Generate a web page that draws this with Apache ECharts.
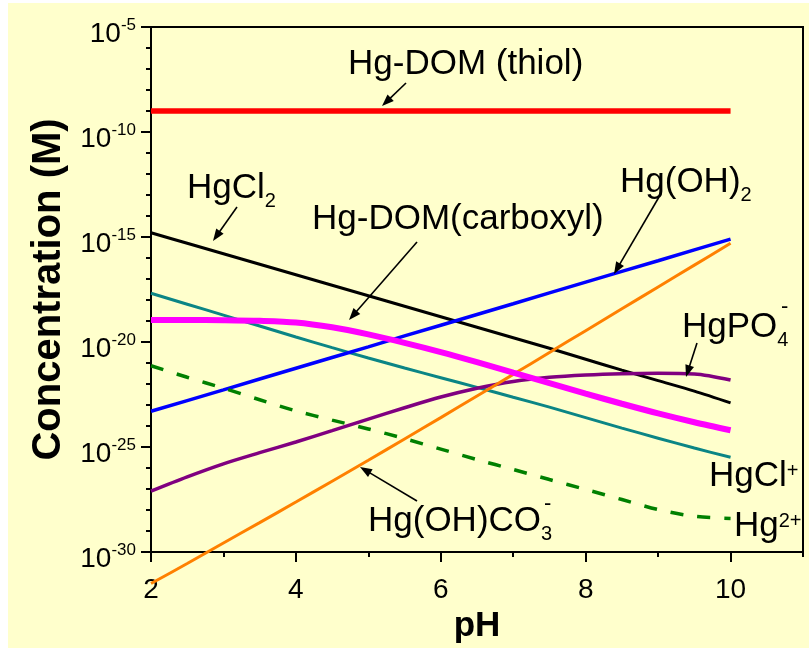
<!DOCTYPE html>
<html><head><meta charset="utf-8">
<script src="https://cdn.jsdelivr.net/npm/echarts@6/dist/echarts.min.js"></script>
<style>html,body{margin:0;padding:0;background:#fff;} #c{width:809px;height:650px;}</style>
</head><body><div id="c"></div>
<script>
// pH values (x)
const pH = [2, 2.5, 3, 3.5, 4, 4.5, 5, 5.5, 6, 6.5, 7, 7.5, 8, 8.5, 9, 9.5, 10];
// log10 of concentration (M)
const HgDOM_thiol    = [-9, -9, -9, -9, -9, -9, -9, -9, -9, -9, -9, -9, -9, -9, -9, -9, -9];
const HgCl2          = [-14.8, -15.3, -15.8, -16.3, -16.8, -17.3, -17.8, -18.3, -18.8, -19.3, -19.8, -20.3, -20.82, -21.34, -21.84, -22.34, -22.9];
const HgClPlus       = [-17.68, -18.2, -18.72, -19.24, -19.76, -20.27, -20.76, -21.24, -21.7, -22.16, -22.63, -23.1, -23.6, -24.1, -24.58, -25.05, -25.49];
const HgDOM_carboxyl = [-18.95, -18.95, -18.96, -18.99, -19.07, -19.3, -19.64, -20.04, -20.48, -20.96, -21.46, -21.96, -22.46, -22.94, -23.4, -23.82, -24.2];
const HgOH2          = [-23.3, -22.79, -22.28, -21.76, -21.25, -20.74, -20.23, -19.71, -19.2, -18.69, -18.18, -17.66, -17.15, -16.64, -16.13, -15.61, -15.1];
const HgOHCO3        = [-31.5, -30.55, -29.57, -28.6, -27.62, -26.63, -25.63, -24.62, -23.6, -22.57, -21.54, -20.5, -19.46, -18.42, -17.38, -16.34, -15.3];
const HgPO4          = [-27.1, -26.42, -25.8, -25.27, -24.76, -24.22, -23.67, -23.13, -22.62, -22.2, -21.88, -21.68, -21.57, -21.51, -21.49, -21.52, -21.81];
const Hg2Plus        = [-21.13, -21.68, -22.2, -22.75, -23.28, -23.72, -24.14, -24.6, -25.1, -25.6, -26.07, -26.55, -27.02, -27.5, -27.98, -28.3, -28.4];
// axis ticks
const xMajorTicks = [2, 4, 6, 8, 10];
const xMinorTicks = [3, 5, 7, 9, 11];
const yExpMin = -30, yExpMax = -5, yExpStep = 5;

const FONT = '"Liberation Sans", Arial, Helvetica, sans-serif';
const pairs = ys => pH.map((x, i) => [x, ys[i]]);

function mk(name, ys, color, width, opts) {
  return Object.assign({
    name, type: 'line', data: pairs(ys), showSymbol: false, symbol: 'none',
    lineStyle: { color, width }, itemStyle: { color }, clip: false, animation: false
  }, opts || {});
}

function arrow(x1, y1, x2, y2) {
  const dx = x2 - x1, dy = y2 - y1, L = Math.hypot(dx, dy), ux = dx / L, uy = dy / L;
  const hl = 12, hw = 4.5;
  const bx = x2 - ux * hl, by = y2 - uy * hl;
  return [
    { type: 'line', z: 100, shape: { x1, y1, x2: bx + ux * 2, y2: by + uy * 2 }, style: { stroke: '#000', lineWidth: 1.6 } },
    { type: 'polygon', z: 100, shape: { points: [[x2, y2], [bx - uy * hw, by + ux * hw], [bx + uy * hw, by - ux * hw]] }, style: { fill: '#000' } }
  ];
}

const richAnn = {
  d: { fontSize: 20, fontFamily: FONT, fill: '#000', padding: [27, 0, 0, 0] },
  u: { fontSize: 20, fontFamily: FONT, fill: '#000', padding: [0, 0, 9, 0] }
};
function label(x, y, text, size) {
  return { type: 'text', z: 100, x, y, style: { text, fontSize: size || 35, fontFamily: FONT, fill: '#000', align: 'left', verticalAlign: 'middle', rich: richAnn } };
}

const chart = echarts.init(document.getElementById('c'), null, { renderer: 'canvas' });
chart.setOption({
  animation: false,
  backgroundColor: '#ffffff',
  grid: { left: 151, right: 6, top: 27, bottom: 98, show: true, borderColor: '#000', borderWidth: 2, backgroundColor: 'transparent' },
  xAxis: [{
    type: 'value', min: 2, max: 11, interval: 2, position: 'bottom',
    name: 'pH', nameLocation: 'middle', nameGap: 57,
    nameTextStyle: { fontSize: 35, fontWeight: 'bold', fontFamily: FONT, color: '#000' },
    axisLine: { show: true, onZero: false, lineStyle: { color: '#000', width: 2 } },
    axisTick: { show: true, length: 10, lineStyle: { color: '#000', width: 2 }, customValues: xMajorTicks },
    axisLabel: { fontSize: 28, fontFamily: FONT, color: '#000', margin: 24, customValues: xMajorTicks },
    splitLine: { show: false }
  }, {
    type: 'value', min: 2, max: 11, interval: 1, position: 'bottom', offset: 0,
    axisLine: { show: false },
    axisTick: { show: true, length: 5, lineStyle: { color: '#000', width: 2 }, customValues: xMinorTicks },
    axisLabel: { show: false },
    splitLine: { show: false }
  }],
  yAxis: {
    type: 'value', min: yExpMin, max: yExpMax, interval: yExpStep,
    name: 'Concentration (M)', nameLocation: 'middle', nameGap: 80,
    nameTextStyle: { fontSize: 40, fontWeight: 'bold', fontFamily: FONT, color: '#000' },
    axisLine: { show: true, onZero: false, lineStyle: { color: '#000', width: 2 } },
    axisTick: { show: true, length: 10, lineStyle: { color: '#000', width: 2 } },
    minorTick: { show: true, splitNumber: 5, length: 5, lineStyle: { color: '#000', width: 2 } },
    axisLabel: {
      margin: 15, padding: [14, 0, 0, 0],
      formatter: v => '{b|10}{s|' + Math.round(v) + '}',
      rich: {
        b: { fontSize: 28, fontFamily: FONT, color: '#000' },
        s: { fontSize: 17, fontFamily: FONT, color: '#000', padding: [0, 0, 18, 0] }
      }
    },
    splitLine: { show: false }
  },
  series: [
    mk('Hg-DOM (thiol)', HgDOM_thiol, '#FF0000', 5.5),
    mk('HgCl2', HgCl2, '#000000', 3, { smooth: 0.3 }),
    mk('HgCl+', HgClPlus, '#0B8585', 3, { smooth: 0.3 }),
    mk('Hg(OH)2', HgOH2, '#0000FF', 3.5),
    mk('Hg2+', Hg2Plus, '#008000', 3, { smooth: 0.3, lineStyle: { color: '#008000', width: 3.5, type: [13, 14] } }),
    mk('HgPO4-', HgPO4, '#800080', 3.5, { smooth: 0.3 }),
    mk('Hg(OH)CO3-', HgOHCO3, '#FF8000', 3, { smooth: 0.3 }),
    mk('Hg-DOM(carboxyl)', HgDOM_carboxyl, '#FF00FF', 6, { smooth: 0.3 })
  ],
  graphic: [
    { type: 'rect', z: -100, shape: { x: 8, y: 3, width: 801, height: 645 }, style: { fill: '#FFFFCC' } },
    label(348, 64, 'Hg-DOM (thiol)'),
    label(187, 188, 'HgCl{d|2}'),
    label(312, 219, 'Hg-DOM(carboxyl)'),
    label(620, 182, 'Hg(OH){d|2}'),
    label(682, 327, 'HgPO{d|4}'),
    { type: 'text', z: 100, x: 781, y: 307, style: { text: '-', fontSize: 22, fontFamily: FONT, fill: '#000', align: 'left', verticalAlign: 'middle' } },
    label(709, 476, 'HgCl{u|+}'),
    label(734, 526, 'Hg{u|2+}'),
    label(368, 521, 'Hg(OH)CO{d|3}'),
    { type: 'text', z: 100, x: 544, y: 504, style: { text: '-', fontSize: 22, fontFamily: FONT, fill: '#000', align: 'left', verticalAlign: 'middle' } },
    ...arrow(406, 83, 382, 106),
    ...arrow(237, 207, 213, 241),
    ...arrow(417, 242, 349, 320),
    ...arrow(659, 197, 614, 274),
    ...arrow(697, 343, 686, 377),
    ...arrow(417, 501, 360, 467)
  ]
});
</script></body></html>
